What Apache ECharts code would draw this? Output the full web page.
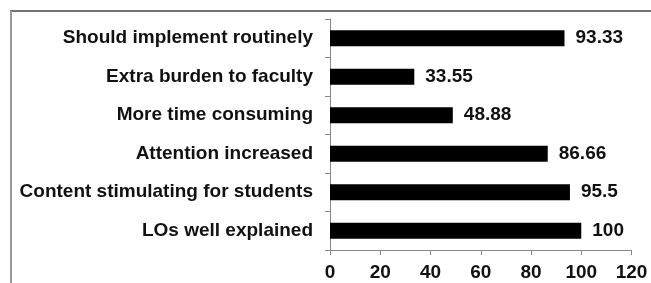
<!DOCTYPE html>
<html>
<head>
<meta charset="utf-8">
<script src="https://cdn.jsdelivr.net/npm/echarts@6/dist/echarts.min.js"></script>
<style>
  html, body { margin: 0; padding: 0; background: #fff; }
  #chart { width: 651px; height: 283px; }
</style>
</head>
<body>
<div id="chart"></div>
<script>
var categories = [
    'Should implement routinely',
    'Extra burden to faculty',
    'More time consuming',
    'Attention increased',
    'Content stimulating for students',
    'LOs well explained'
];
var values = [93.33, 33.55, 48.88, 86.66, 95.5, 100];
var xTicks = [0, 20, 40, 60, 80, 100, 120];

var chart = echarts.init(document.getElementById('chart'));
var font = 'Liberation Sans, Arial, sans-serif';

var option = {
    animation: false,
    grid: { left: 330, right: 19.5, top: 19, bottom: 33 },
    xAxis: {
        type: 'value',
        min: xTicks[0],
        max: xTicks[xTicks.length - 1],
        interval: xTicks[1] - xTicks[0],
        splitLine: { show: false },
        axisLine: { show: true, lineStyle: { color: '#888', width: 1 } },
        axisTick: { show: true, length: 5, lineStyle: { color: '#888' } },
        axisLabel: {
            margin: 13,
            color: '#111',
            fontFamily: font,
            fontWeight: 'bold',
            fontSize: 19
        }
    },
    yAxis: {
        type: 'category',
        inverse: true,
        data: categories,
        axisLine: { show: true, lineStyle: { color: '#888', width: 1 } },
        axisTick: { show: true, length: 5, lineStyle: { color: '#888' } },
        axisLabel: {
            margin: 17,
            color: '#111',
            fontFamily: font,
            fontWeight: 'bold',
            fontSize: 19
        }
    },
    series: [{
        type: 'bar',
        data: values,
        barWidth: 16,
        itemStyle: { color: '#000' },
        label: {
            show: true,
            position: 'right',
            distance: 11,
            color: '#111',
            fontFamily: font,
            fontWeight: 'bold',
            fontSize: 19
        }
    }],
    graphic: [
        { type: 'line', shape: { x1: 10, y1: 11, x2: 651, y2: 11 }, style: { stroke: '#444', lineWidth: 1.5 } },
        { type: 'line', shape: { x1: 11, y1: 11, x2: 11, y2: 283 }, style: { stroke: '#999', lineWidth: 2 } }
    ]
};

chart.setOption(option);
</script>
</body>
</html>
